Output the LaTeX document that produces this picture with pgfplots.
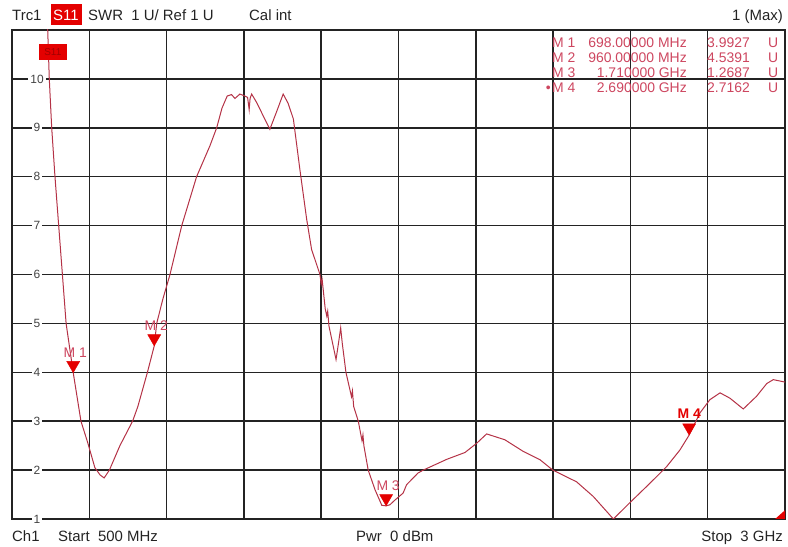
\documentclass[border=0pt]{standalone}
\usepackage{pgfplots}
\pgfplotsset{compat=1.18}
\usepackage{pgfplotstable}
\usepackage{fontspec}
\setmainfont{Liberation Sans}
\definecolor{trace}{RGB}{180,50,70}
\definecolor{mk}{RGB}{228,0,0}
\definecolor{mtext}{RGB}{205,70,95}
\definecolor{gridc}{RGB}{35,35,35}
\definecolor{txt}{RGB}{35,35,35}

\pgfplotstableread{
f v
613 11.5
615.5 11.0
620.6 10.0
628.4 9.0
639 8.0
651 7.0
663 6.0
675 5.0
698 3.9927
723 3.0
745 2.56
768 2.05
785 1.9
798 1.84
815 2.0
849 2.5
890 3.0
907 3.3
938 4.0
960 4.5391
968 5.0
988 5.5
1011 6.0
1049 7.0
1097 8.0
1140 8.63
1162 9.0
1179 9.4
1196 9.65
1210 9.68
1221 9.6
1237 9.69
1253 9.65
1262 9.62
1267 9.37
1270 9.6
1275 9.69
1291 9.52
1312 9.25
1334 8.97
1357 9.35
1377 9.69
1393 9.5
1410 9.18
1431 8.15
1453 7.13
1469 6.51
1496 6.0
1500 5.8
1503 5.9
1513 5.3
1518 5.15
1521 5.25
1525 4.95
1548 4.26
1556 4.6
1563 4.91
1568 4.6
1580 4.0
1598 3.5
1601 3.62
1605 3.3
1620 3.0
1632 2.6
1635 2.72
1638 2.5
1652 2.0
1674 1.6
1696 1.28
1710 1.2687
1722 1.29
1739 1.39
1765 1.53
1776 1.70
1813 1.94
1830 2.0
1906 2.22
1965 2.36
2003 2.55
2035 2.74
2094 2.62
2154 2.38
2208 2.21
2249 2.0
2326 1.76
2380 1.46
2445 1.0
2496 1.32
2563 1.73
2617 2.07
2660 2.41
2690 2.7162
2725 3.17
2757 3.44
2790 3.58
2822 3.47
2865 3.25
2908 3.51
2941 3.77
2962 3.85
3000 3.80
}\tracedata

\newcommand\hf{\fontsize{15}{15}\selectfont}
\newcommand\lf{\fontsize{14}{14}\selectfont}
\newcommand\tf{\fontsize{12}{12}\selectfont}

\begin{document}
\begin{tikzpicture}
\begin{axis}[
  at={(12bp,28bp)}, anchor=south west,
  scale only axis, width=773bp, height=489bp,
  xmin=500, xmax=3000, ymin=1, ymax=11,
  xtick={500,750,...,3000}, ytick={1,2,...,11},
  xticklabels={}, yticklabels={},
  major tick length=0pt,
  grid=major,
  major grid style={gridc, line width=1.5bp},
  axis line style={gridc, line width=1.5bp},
  clip mode=individual,
]
\addplot[trace, line width=1bp, no markers] table[x=f, y=v] {\tracedata};
% marker triangles
\addplot[only marks, mark=triangle*, mark size=7.5bp, color=mk,
  mark options={yshift=7.5bp, rotate=180, draw=mk, fill=mk}]
  coordinates {(698,3.9927) (960,4.5391) (1710,1.2687) (2690,2.7162)};
% marker labels
\addplot[draw=none, no markers, nodes near coords, point meta=explicit symbolic,
  nodes near coords style={anchor=center, yshift=20bp, xshift=2bp, font=\fontsize{14}{14}\selectfont, text=mtext, inner sep=0pt}]
  coordinates {(698,3.9927) [M 1] (960,4.5391) [M 2] (1710,1.2687) [M 3]};
\addplot[draw=none, no markers, nodes near coords, point meta=explicit symbolic,
  nodes near coords style={anchor=center, yshift=21bp, font=\fontsize{14}{14}\selectfont\bfseries, text=mk, inner sep=0pt}]
  coordinates {(2690,2.7162) [M 4]};
% corner marker
\addplot[fill=mk, draw=none] coordinates {(3000,1) (2968,1) (3000,1.18)} -- cycle;
% y tick labels inside plot
\foreach \v in {1,...,10} {
  \edef\temp{\noexpand\node[fill=white, inner sep=2bp, font=\noexpand\tf, text=txt!85] at (axis cs:581,\v) {\v};}
  \temp
}
% S11 trace label
\node[fill=mk, minimum width=28bp, minimum height=16bp, inner sep=0pt, font=\fontsize{10}{10}\selectfont, text=mk!70!black] at (axis cs:632,10.55) {S11};
\end{axis}
% header
\node[anchor=base west, font=\hf, text=txt, inner sep=0pt] at (12bp,526.5bp) {Trc1};
\fill[mk] (51bp,522bp) rectangle (82bp,543bp);
\node[anchor=base west, font=\hf, text=white, inner sep=0pt] at (53bp,526.5bp) {S11};
\node[anchor=base west, font=\hf, text=txt, inner sep=0pt] at (88bp,526.5bp) {SWR\ \ 1 U/\ Ref 1 U};
\node[anchor=base west, font=\hf, text=txt, inner sep=0pt] at (249bp,526.5bp) {Cal int};
\node[anchor=base east, font=\hf, text=txt, inner sep=0pt] at (783bp,526.5bp) {1 (Max)};
% footer
\node[anchor=base west, font=\hf, text=txt, inner sep=0pt] at (12bp,6bp) {Ch1};
\node[anchor=base west, font=\hf, text=txt, inner sep=0pt] at (58bp,6bp) {Start\ \ 500 MHz};
\node[anchor=base west, font=\hf, text=txt, inner sep=0pt] at (356bp,6bp) {Pwr\ \ 0 dBm};
\node[anchor=base east, font=\hf, text=txt, inner sep=0pt] at (783bp,6bp) {Stop\ \ 3 GHz};
% marker table
\foreach \yy/\m/\fr/\val in {499/M 1/698.00000 MHz/3.9927, 484/M 2/960.00000 MHz/4.5391, 469/M 3/1.710000 GHz/1.2687, 454/M 4/2.690000 GHz/2.7162} {
  \node[anchor=base west, font=\lf, text=mtext, inner sep=0pt] at (552bp,\yy bp) {\m};
  \node[anchor=base east, font=\lf, text=mtext, inner sep=0pt] at (687bp,\yy bp) {\fr};
  \node[anchor=base west, font=\lf, text=mtext, inner sep=0pt] at (707bp,\yy bp) {\val};
  \node[anchor=base west, font=\lf, text=mtext, inner sep=0pt] at (768bp,\yy bp) {U};
}
\node[anchor=base east, font=\lf, text=mtext, inner sep=0pt] at (551bp,454bp) {•};
\pgfresetboundingbox
\path[use as bounding box] (0,0) rectangle (788bp,547bp);
\end{tikzpicture}
\end{document}
